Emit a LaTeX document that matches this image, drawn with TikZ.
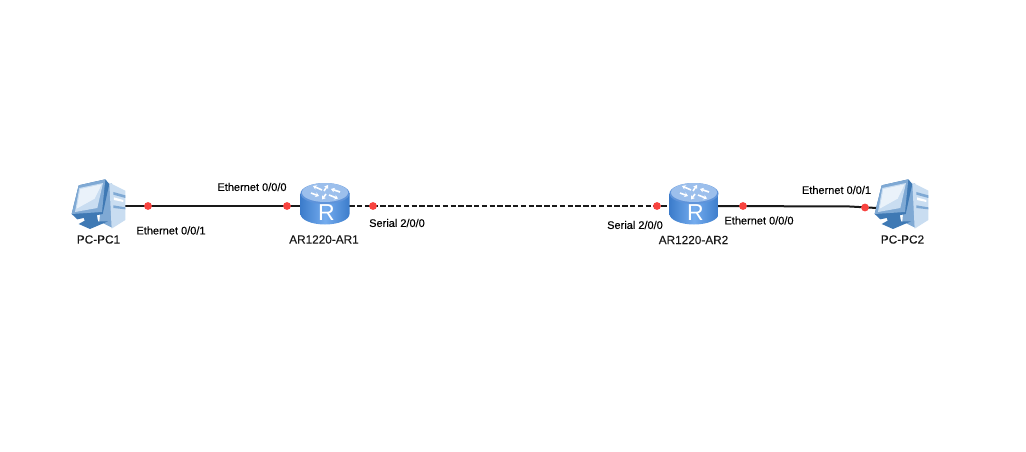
\documentclass[tikz,border=0pt]{standalone}
\usepackage{fontspec}
\setmainfont{Liberation Sans}
\newfontfamily\labelfont[FakeBold=0.12]{Liberation Sans}
\usetikzlibrary{arrows.meta}
\definecolor{rtop}{HTML}{9CBFEC}
\definecolor{rrim}{HTML}{5E93DA}
\definecolor{rmid}{HTML}{3C7CCB}
\definecolor{rlite}{HTML}{74ACEE}
\definecolor{pcdark}{HTML}{3F79B4}
\definecolor{pcmid}{HTML}{7FA9D4}
\definecolor{pclite}{HTML}{C9DDF1}
\definecolor{pcscreen}{HTML}{EAF2FA}
\definecolor{wirered}{HTML}{F8433F}
\tikzset{
  x=1pt,y=-1pt,
  port/.style={circle,fill=wirered,draw=none,inner sep=0pt,minimum size=7.8pt},
  wire/.style={line width=2pt,black!90},
  dashwire/.style={wire,dash pattern=on 5.3pt off 2.5pt},
  portlabel/.style={font=\labelfont\fontsize{11}{13}\selectfont,text=black,inner sep=0pt},
  namelabel/.style={font=\labelfont\fontsize{11.8}{14}\selectfont,text=black!90,inner sep=0pt},
  anchorbox/.style={draw=none,fill=none,inner sep=0pt},
  rarrow/.style={white,line width=1.6pt,-{Stealth[length=3.6pt,width=4.8pt]}},
}
\newcommand{\routericon}[1]{%
  \begin{scope}[shift={(#1)}]
    \path[left color=rmid,right color=rmid,middle color=rlite]
      (-24.5,-12) -- (-24.5,9) arc[start angle=180,end angle=0,x radius=24.5,y radius=10.5]
      -- (24.5,-12) -- cycle;
    \path[fill=rrim] (0,-11.5) ellipse[x radius=24.5,y radius=10.5];
    \path[fill=rtop] (0,-12.5) ellipse[x radius=23,y radius=9.5];
    \draw[rarrow] (-3,-15) -- (-12,-19);
    \draw[rarrow] (-14,-12) -- (-6,-9);
    \draw[rarrow] (4,-10) -- (13,-6.5);
    \draw[rarrow] (15,-13) -- (6,-16);
    \draw[rarrow] (-1,-14) -- (3,-20);
    \draw[rarrow] (1,-11) -- (-3,-5.5);
    \node[anchorbox,text=white,font=\fontsize{23}{23}\selectfont] at (1.5,8) {R};
  \end{scope}}
\newcommand{\pcicon}[1]{%
  \begin{scope}[shift={(#1)},x=0.3333pt,y=-0.3333pt]
    % tower
    \path[fill=pcmid] (98,28) -- (126,16) -- (128,150) -- (88,130) -- cycle;
    \path[fill=pclite] (118,14) -- (166,38) -- (166,126) -- (125,152) -- cycle;
    \path[fill=pcmid] (130,42) -- (166,52) -- (166,60) -- (130,50) -- cycle;
    \path[fill=pcmid] (130,82) -- (166,88) -- (166,94) -- (130,90) -- cycle;
    \path[fill=white] (132,58) -- (160,66) -- (160,72) -- (132,66) -- cycle;
    % stand
    \path[fill=pcdark] (40,115) -- (80,108) -- (84,130) -- (114,130) -- (60,153) -- (26,138) -- (44,128) -- cycle;
    % monitor
    \path[fill=pcdark] (26,22) -- (106,4) -- (118,18) -- (98,108) -- (22,124) -- (5,108) -- cycle;
    \path[fill=pcmid] (26,22) -- (106,4) -- (96,102) -- (5,108) -- cycle;
    \path[fill=pclite] (28,30) -- (99,15) -- (82,90) -- (15,102) -- cycle;
    \path[fill=pcscreen] (31,33) -- (95,19) -- (74,62) -- (20,92) -- cycle;
  \end{scope}}
\begin{document}
\begin{tikzpicture}
\useasboundingbox[fill=white] (0,0) rectangle (1026,452);
% device anchors
\node[anchorbox,minimum width=52pt,minimum height=44pt] (pc1) at (98,206) {};
\node[anchorbox,minimum width=48pt,minimum height=40pt] (r1) at (325,206) {};
\node[anchorbox,minimum width=48pt,minimum height=40pt] (r2) at (694,206) {};
\node[anchorbox,minimum width=52pt,minimum height=44pt] (pc2) at (903,208) {};
% connectors
\draw[wire] (pc1.east) -- (r1.west);
\draw[dashwire] (r1.east) -- (r2.west);
\draw[wire] (r2.east) -- (850,206.5) -- (pc2.west);
% icons
\pcicon{70,178}
\pcicon{873,178}
\routericon{325,205}
\routericon{694,205}
% port dots
\node[port] (p1) at (148,206) {};
\node[port] (p2) at (287,206) {};
\node[port] (p3) at (373,206) {};
\node[port] (p4) at (657,206) {};
\node[port] (p5) at (743,206) {};
\node[port] (p6) at (865,207.5) {};
% labels
\node[portlabel] (l1) at (252,187) {Ethernet 0/0/0};
\node[portlabel] (l2) at (171,230.5) {Ethernet 0/0/1};
\node[portlabel] (l3) at (397,223) {Serial 2/0/0};
\node[portlabel] (l4) at (635,225) {Serial 2/0/0};
\node[portlabel] (l5) at (759,220.5) {Ethernet 0/0/0};
\node[portlabel] (l6) at (836.5,190) {Ethernet 0/0/1};
\node[namelabel] (n1) at (98.5,239.5) {PC-PC1};
\node[namelabel] (n2) at (324,239.5) {AR1220-AR1};
\node[namelabel] (n3) at (693.5,240) {AR1220-AR2};
\node[namelabel] (n4) at (902.5,239.5) {PC-PC2};
\end{tikzpicture}
\end{document}
